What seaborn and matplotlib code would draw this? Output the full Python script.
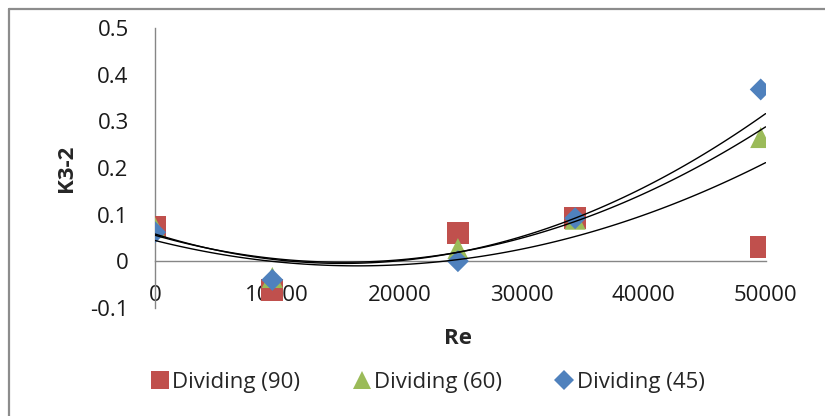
import numpy as np
import pandas as pd
import matplotlib
matplotlib.use("Agg")
import matplotlib.pyplot as plt
import seaborn as sns
from matplotlib.lines import Line2D

# Measured data points
re_vals = [0, 9600, 24800, 34400, 49600]
k_90 = [0.073, -0.062, 0.060, 0.092, 0.030]
k_60 = [0.072, -0.035, 0.027, 0.090, 0.265]
k_45 = [0.062, -0.040, 0.000, 0.092, 0.368]
series_names = ["Dividing (90)", "Dividing (60)", "Dividing (45)"]
colors = ["#C0504D", "#9BBB59", "#4F81BD"]
markers = ["s", "^", "D"]

# Polynomial (order 2) trendlines
trend_re = [0, 8600, 17600, 25000, 33200, 41300, 50000]
trend_low = [0.045, 0.005, -0.015, 0.002, 0.045, 0.120, 0.206]
trend_mid = [0.051, 0.020, -0.004, 0.012, 0.075, 0.167, 0.285]
trend_top = [0.051, 0.020, -0.002, 0.013, 0.077, 0.178, 0.317]

x_ticks = [0, 10000, 20000, 30000, 40000, 50000]
y_ticks = [-0.1, 0, 0.1, 0.2, 0.3, 0.4, 0.5]
y_tick_labels = ["-0.1", "0", "0.1", "0.2", "0.3", "0.4", "0.5"]

df = pd.DataFrame({
    "Re": re_vals * 3,
    "K": k_90 + k_60 + k_45,
    "Series": sum([[n] * len(re_vals) for n in series_names], []),
})
trend_df = pd.DataFrame({
    "Re": trend_re * 3,
    "K": trend_low + trend_mid + trend_top,
    "Trend": sum([[t] * len(trend_re) for t in ["low", "mid", "top"]], []),
})

sns.set_theme(style="white")
plt.rcParams["font.family"] = ["Open Sans", "DejaVu Sans"]

fig = plt.figure(figsize=(8.25, 4.16), dpi=100)
ax = fig.add_axes([0.188, 0.26, 0.740, 0.673])

# chart-area border (left and top edges visible in the crop)
fig.add_artist(Line2D([0.0115, 0.0115], [0.0, 0.9785], transform=fig.transFigure,
                      color="#8c8c8c", lw=1.6))
fig.add_artist(Line2D([0.0115, 1.0], [0.9785, 0.9785], transform=fig.transFigure,
                      color="#8c8c8c", lw=1.6))

sizes = {"Dividing (90)": 250, "Dividing (60)": 230, "Dividing (45)": 125}
for name, c, m in zip(series_names, colors, markers):
    sub = df[df["Series"] == name]
    sns.scatterplot(data=sub, x="Re", y="K", s=sizes[name], marker=m, color=c,
                    edgecolor="none", linewidth=0, label=name, zorder=3, ax=ax)
for t in ["low", "mid", "top"]:
    sub = trend_df[trend_df["Trend"] == t]
    sns.regplot(data=sub, x="Re", y="K", order=2, ci=None, scatter=False,
                ax=ax, line_kws={"color": "black", "lw": 1.0, "zorder": 4})

ax.set_xlim(0, 50000)
ax.set_ylim(-0.1, 0.5)
ax.set_xticks(x_ticks)
ax.set_yticks(y_ticks)
ax.set_xticklabels([str(t) for t in x_ticks])
ax.set_yticklabels(y_tick_labels)
for s in ["top", "right"]:
    ax.spines[s].set_visible(False)
ax.spines["bottom"].set_position(("data", 0))
for s in ["left", "bottom"]:
    ax.spines[s].set_color("#868686")
    ax.spines[s].set_linewidth(1.0)
ax.tick_params(axis="both", length=0, labelsize=16, colors="#1a1a1a")
ax.tick_params(axis="x", pad=17)
ax.tick_params(axis="y", pad=19)
ax.set_xlabel("")
ax.set_ylabel("")
if ax.get_legend() is not None:
    ax.get_legend().remove()

fig.text(0.555, 0.187, "Re", fontsize=16, fontweight="bold", ha="center", va="center")
fig.text(0.08, 0.596, "K3-2", fontsize=16, fontweight="bold", rotation=90,
         ha="center", va="center")

handles = [Line2D([], [], linestyle="none", marker=m, color=c, markeredgewidth=0,
                  markersize=ms)
           for m, c, ms in zip(markers, colors, [12.5, 12.5, 10])]
fig.legend(handles, series_names, loc="center", bbox_to_anchor=(0.517, 0.080), ncol=3,
           frameon=False, fontsize=16, handletextpad=0.05, columnspacing=2.3,
           handlelength=1.0, borderpad=0)

fig.savefig("out.png", dpi=100)
